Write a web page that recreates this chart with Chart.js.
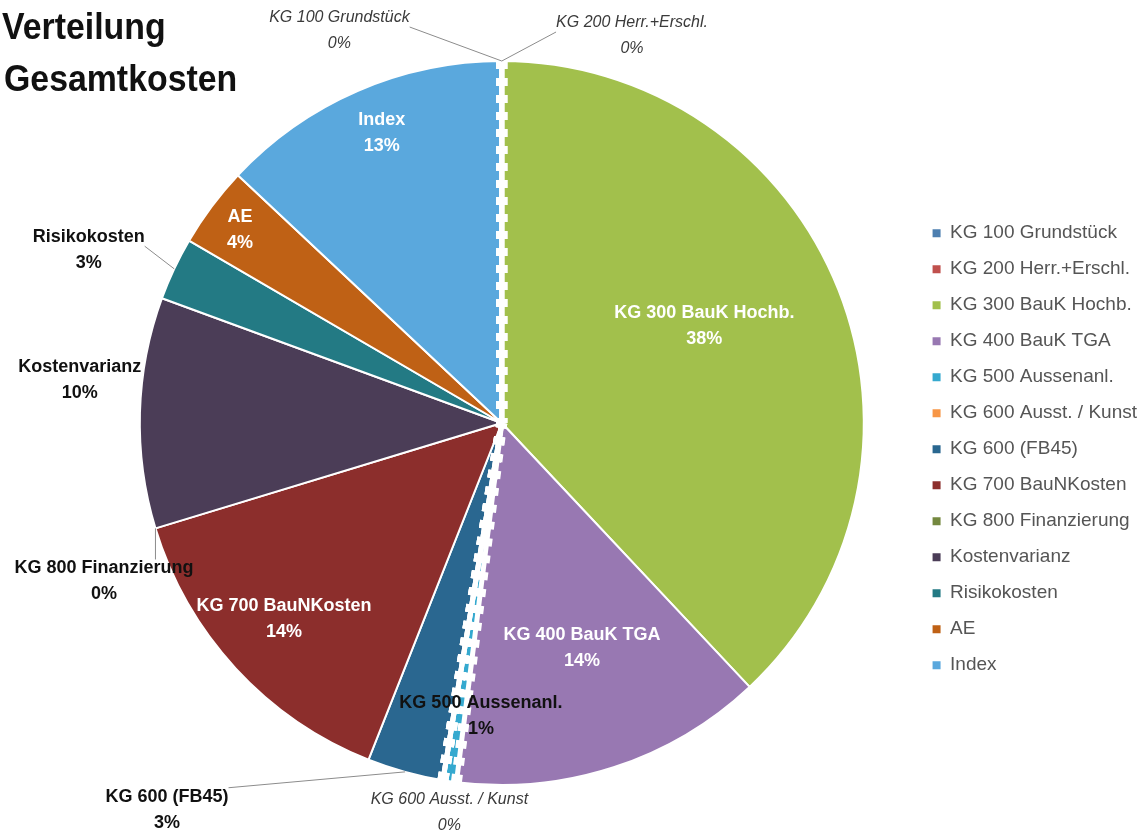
<!DOCTYPE html>
<html>
<head>
<meta charset="utf-8">
<title>Verteilung Gesamtkosten</title>
<script src="https://cdn.jsdelivr.net/npm/chart.js@4.4.1/dist/chart.umd.min.js"></script>
<style>
  html, body { margin: 0; padding: 0; background: #fff; }
  #wrap { position: relative; width: 1147px; height: 835px; }
</style>
</head>
<body>
<div id="wrap"><canvas id="costChart"></canvas></div>
<script>
// --- data (shares in %) ---
const categories = [
  'KG 100 Grundstück', 'KG 200 Herr.+Erschl.', 'KG 300 BauK Hochb.', 'KG 400 BauK TGA',
  'KG 500 Aussenanl.', 'KG 600 Ausst. / Kunst', 'KG 600 (FB45)', 'KG 700 BauNKosten',
  'KG 800 Finanzierung', 'Kostenvarianz', 'Risikokosten', 'AE', 'Index'
];
const shares = [0, 0, 38, 14, 0.6, 0, 3.4, 14.3, 0, 10.3, 2.8, 3.6, 13];

const sliceColors = [
  '#4d7fb0', '#c0504d', '#a2c04c', '#9878b2', '#35a9cf', '#f79646', '#2a6790',
  '#8c2e2c', '#74883f', '#4b3d57', '#237a84', '#bf6115', '#5aa8dd'
];

// label placement: angle offset from slice middle (deg) and distance as share of radius
const labelAngleOffset = [-22.5, 18.6, -3.9, -1.6, -4.2, -1.7, 25.4, 0.6, -4.8, 4.2, -2.5, -0.3, 0.9];
const labelRadius      = [1.172, 1.128, 0.62, 0.66, 0.811, 1.086, 1.413, 0.81, 1.183, 1.172, 1.237, 0.899, 0.867];
const labelKind        = ['zero', 'zero', 'in', 'in', 'out', 'zero', 'out', 'in', 'out', 'out', 'out', 'in', 'in'];
const labelLeader      = [true, true, false, false, false, false, true, false, true, false, true, false, false];
// slices whose edges are drawn as white dashed separators
const dashedEdges      = [true, true, false, false, true, true, false, false, false, false, false, false, false];

const FONT = "'Liberation Sans', Arial, sans-serif";
const labelStyles = {
  in:   { font: 'bold 18px ' + FONT, color: '#ffffff' },
  out:  { font: 'bold 18px ' + FONT, color: '#111111' },
  zero: { font: 'italic 16px ' + FONT, color: '#3a3a3a' },
};
const LINE_GAP = 26;

// white dashed separators + slice labels
const sliceLabels = {
  id: 'sliceLabels',
  afterDatasetsDraw(chart) {
    const ctx = chart.ctx;
    const meta = chart.getDatasetMeta(0);
    const values = chart.data.datasets[0].data;
    const total = values.reduce((a, b) => a + b, 0);
    const props = ['x', 'y', 'outerRadius', 'startAngle', 'endAngle'];
    ctx.save();

    meta.data.forEach((arc, i) => {
      if (!dashedEdges[i]) return;
      const { x, y, outerRadius, startAngle, endAngle } = arc.getProps(props, true);
      [startAngle, endAngle].forEach(a => {
        const ex = x + Math.cos(a) * outerRadius, ey = y + Math.sin(a) * outerRadius;
        ctx.strokeStyle = '#ffffff';
        ctx.lineCap = 'butt';
        ctx.setLineDash([]);
        ctx.lineWidth = 5;
        ctx.beginPath(); ctx.moveTo(x, y); ctx.lineTo(ex, ey); ctx.stroke();
        ctx.setLineDash([8, 9]);
        ctx.lineWidth = 11;
        ctx.beginPath(); ctx.moveTo(ex, ey); ctx.lineTo(x, y); ctx.stroke();
      });
    });
    ctx.setLineDash([]);

    meta.data.forEach((arc, i) => {
      const { x, y, outerRadius, startAngle, endAngle } = arc.getProps(props, true);
      const mid = (startAngle + endAngle) / 2;
      const a = mid + labelAngleOffset[i] * Math.PI / 180;
      const r = labelRadius[i] * outerRadius;
      const lx = x + Math.cos(a) * r, ly = y + Math.sin(a) * r;
      const style = labelStyles[labelKind[i]];
      const lines = [chart.data.labels[i], Math.round(values[i] / total * 100) + '%'];
      const y1 = ly - LINE_GAP / 2, y2 = ly + LINE_GAP / 2;
      ctx.font = style.font;
      ctx.textAlign = 'center';
      ctx.textBaseline = 'middle';

      if (labelLeader[i]) {
        const w = ctx.measureText(lines[0]).width;
        const ax = x + Math.cos(mid) * outerRadius, ay = y + Math.sin(mid) * outerRadius;
        const px = Math.min(Math.max(ax, lx - w / 2), lx + w / 2);
        const py = Math.min(Math.max(ay, y1 - 9), y1 + 9);
        ctx.strokeStyle = '#8c8c8c';
        ctx.lineWidth = 1;
        ctx.beginPath(); ctx.moveTo(ax, ay); ctx.lineTo(px, py); ctx.stroke();
      }

      ctx.fillStyle = style.color;
      ctx.fillText(lines[0], lx, y1);
      ctx.fillText(lines[1], lx, y2);
    });
    ctx.restore();
  }
};

// top-left heading
const heading = {
  id: 'heading',
  afterDraw(chart) {
    const ctx = chart.ctx;
    const sx = 0.94;
    ctx.save();
    ctx.fillStyle = '#111111';
    ctx.font = 'bold 36px ' + FONT;
    ctx.textAlign = 'left';
    ctx.textBaseline = 'alphabetic';
    ctx.scale(sx, 1);
    ctx.fillText('Verteilung', 2 / sx, 39);
    ctx.fillText('Gesamtkosten', 4 / sx, 91);
    ctx.restore();
  }
};

new Chart(document.getElementById('costChart'), {
  type: 'pie',
  data: {
    labels: categories,
    datasets: [{
      data: shares,
      backgroundColor: sliceColors,
      borderColor: '#ffffff',
      borderWidth: 2,
    }]
  },
  options: {
    responsive: true,
    maintainAspectRatio: false,
    animation: false,
    layout: { padding: { left: 88, right: 0, top: 60, bottom: 49 } },
    plugins: {
      tooltip: { enabled: false },
      legend: {
        position: 'right',
        title: { display: true, text: '', padding: { top: 38, bottom: 0 } },
        labels: {
          color: '#555555',
          font: { family: FONT, size: 19 },
          boxWidth: 8,
          boxHeight: 8,
          padding: 17,
          generateLabels: chart => Chart.overrides.pie.plugins.legend.labels.generateLabels(chart)
            .map(l => ({ ...l, lineWidth: 0, strokeStyle: l.fillStyle })),
        }
      }
    }
  },
  plugins: [sliceLabels, heading]
});
</script>
</body>
</html>
